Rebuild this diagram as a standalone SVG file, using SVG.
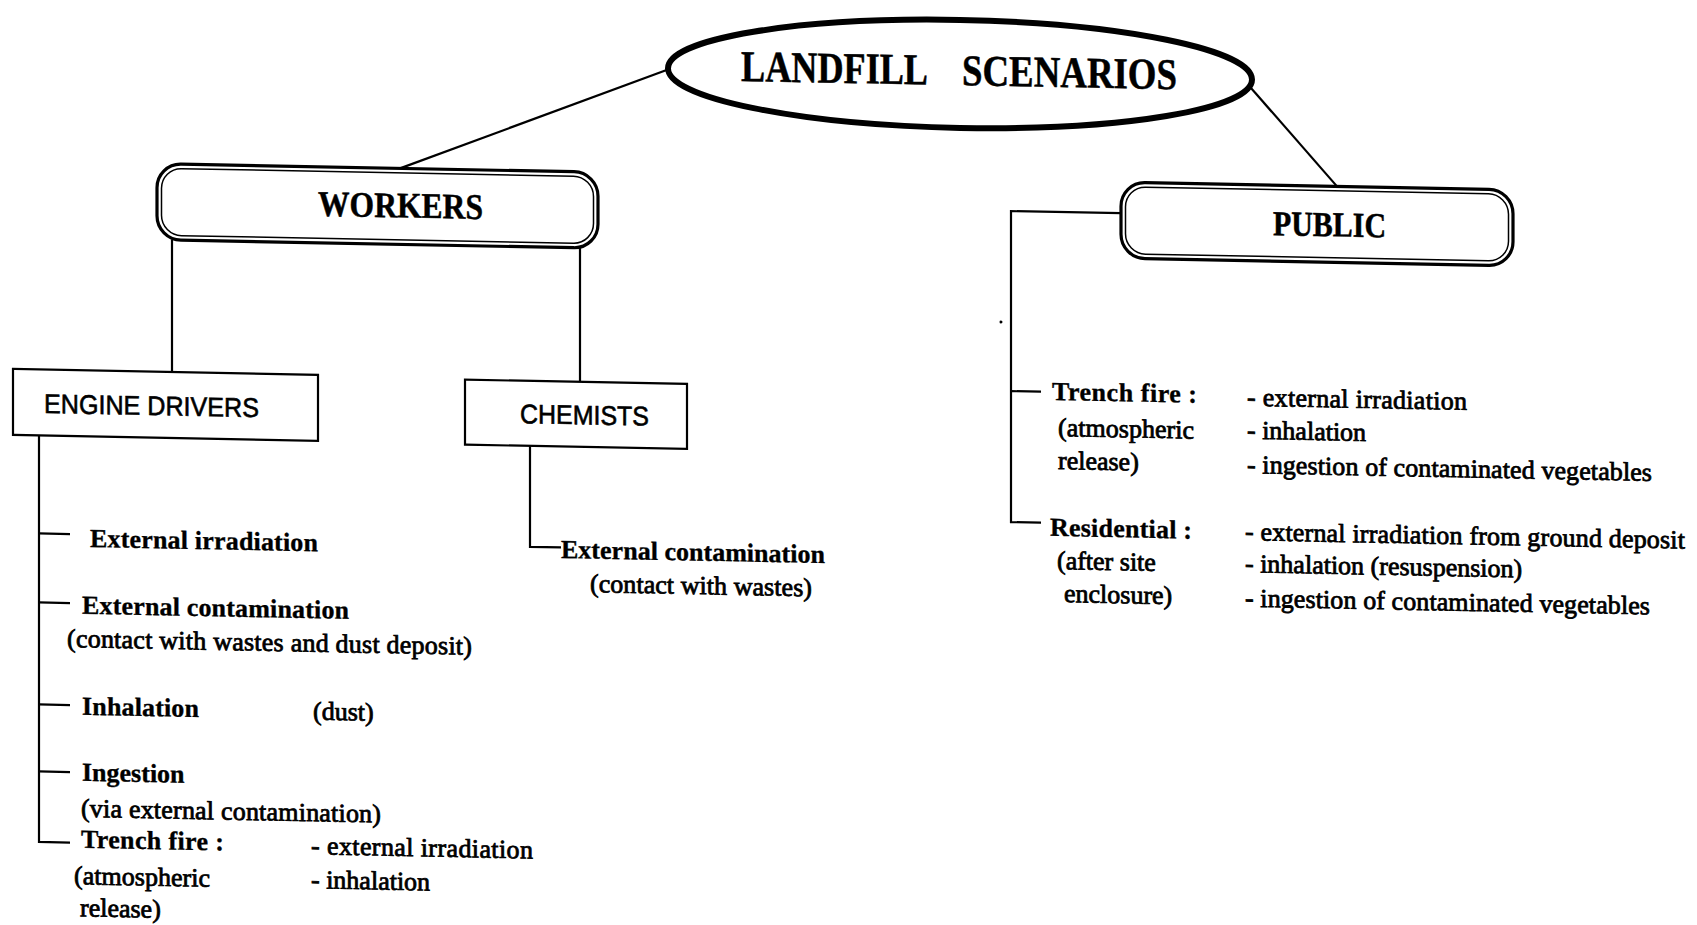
<svg xmlns="http://www.w3.org/2000/svg" width="1697" height="925" viewBox="0 0 1697 925">
  <style>
    .t{font-family:"Liberation Serif","Times New Roman",serif;fill:#000;font-size:26px}
    .b{font-weight:bold;stroke:#000;stroke-width:0.35}
    .r{stroke:#000;stroke-width:0.8}
    .h{font-family:"Liberation Serif","Times New Roman",serif;font-weight:bold;fill:#000;stroke:#000;stroke-width:0.5}
    .s{font-family:"Liberation Sans",Arial,sans-serif;font-size:27px;fill:#000;stroke:#000;stroke-width:0.6}
    .ln{stroke:#000;stroke-width:2.2;fill:none}
    .box{fill:#fff;stroke:#000;stroke-width:2.2}
    .outer{fill:#fff;stroke:#000;stroke-width:3.2}
    .inner{fill:none;stroke:#000;stroke-width:1.5}
  </style>
  <rect width="1697" height="925" fill="#fff"/>
  <!-- the whole sheet sits with a slight downward slope to the right -->
  <g transform="matrix(1 0.0192 0 1 0 -16.3)">
    <g id="connectors">
      <path class="ln" d="M668,73 L400,177"/>
      <path class="ln" d="M1249,78 L1337,177"/>
      <path class="ln" d="M172,253 V385"/>
      <path class="ln" d="M580,253 V387"/>
      <path class="ln" d="M39,451 V857.5 H70"/>
      <path class="ln" d="M39,549 H70 M39,618 H70 M39,720 H70 M39,787 H70"/>
      <path class="ln" d="M530,452 V553 H561"/>
      <path class="ln" d="M1121,208 H1011 V519 H1041"/>
      <path class="ln" d="M1011,388 H1041"/>
    </g>

    <g id="landfill-scenarios">
      <ellipse cx="960" cy="71.8" rx="292" ry="54" fill="#fff" stroke="#000" stroke-width="6"/>
      <text class="h" x="741" y="83" font-size="44" textLength="187" lengthAdjust="spacingAndGlyphs">LANDFILL</text>
      <text class="h" x="962" y="83" font-size="44" textLength="215" lengthAdjust="spacingAndGlyphs">SCENARIOS</text>
    </g>

    <g id="workers">
      <rect class="outer" x="157" y="177" width="441" height="76" rx="24"/>
      <rect class="inner" x="161.5" y="181.5" width="432" height="67" rx="20"/>
      <text class="h" x="318" y="226" font-size="36" textLength="165" lengthAdjust="spacingAndGlyphs">WORKERS</text>
    </g>

    <g id="public">
      <rect class="outer" x="1121" y="177" width="392" height="76" rx="24"/>
      <rect class="inner" x="1125.5" y="181.5" width="383" height="67" rx="20"/>
      <text class="h" x="1273" y="227" font-size="35" textLength="113" lengthAdjust="spacingAndGlyphs">PUBLIC</text>
    </g>

    <g id="engine-drivers">
      <rect class="box" x="13" y="385" width="305" height="66"/>
      <text class="s" x="44" y="428.5" textLength="215" lengthAdjust="spacingAndGlyphs">ENGINE DRIVERS</text>
    </g>

    <g id="chemists">
      <rect class="box" x="465" y="387" width="222" height="65"/>
      <text class="s" x="520" y="429.5" textLength="129" lengthAdjust="spacingAndGlyphs">CHEMISTS</text>
    </g>

    <g id="ed-external-irradiation">
      <text class="t b" x="90" y="561.5" textLength="228">External irradiation</text>
    </g>
    <g id="ed-external-contamination">
      <text class="t b" x="82" y="628.5" textLength="267">External contamination</text>
      <text class="t r" x="67" y="662" textLength="405">(contact with wastes and dust deposit)</text>
    </g>
    <g id="ed-inhalation">
      <text class="t b" x="82" y="729.5" textLength="117">Inhalation</text>
      <text class="t r" x="313" y="730">(dust)</text>
    </g>
    <g id="ed-ingestion">
      <text class="t b" x="82" y="795.5">Ingestion</text>
      <text class="t r" x="81" y="831.5" textLength="300">(via external contamination)</text>
    </g>
    <g id="ed-trench-fire">
      <text class="t b" x="81" y="862.5" textLength="143">Trench fire :</text>
      <text class="t r" x="74" y="899" textLength="136">(atmospheric</text>
      <text class="t r" x="80" y="931">release)</text>
      <text class="t r" x="311" y="864.5" textLength="222">- external irradiation</text>
      <text class="t r" x="311" y="898.5">- inhalation</text>
    </g>

    <g id="ch-external-contamination">
      <text class="t b" x="561" y="563.5" textLength="264">External contamination</text>
      <text class="t r" x="590" y="597" textLength="222">(contact with wastes)</text>
    </g>

    <g id="pu-trench-fire">
      <text class="t b" x="1052" y="396" textLength="145">Trench fire :</text>
      <text class="t r" x="1058" y="432" textLength="136">(atmospheric</text>
      <text class="t r" x="1058" y="465">release)</text>
      <text class="t r" x="1247" y="398" textLength="220">- external irradiation</text>
      <text class="t r" x="1247" y="431">- inhalation</text>
      <text class="t r" x="1247" y="465.5" textLength="405">- ingestion of contaminated vegetables</text>
    </g>

    <g id="pu-residential">
      <text class="t b" x="1050" y="532" textLength="142">Residential :</text>
      <text class="t r" x="1057" y="565">(after site</text>
      <text class="t r" x="1064" y="598">enclosure)</text>
      <text class="t r" x="1245" y="532.5" textLength="440">- external irradiation from ground deposit</text>
      <text class="t r" x="1245" y="564.5">- inhalation (resuspension)</text>
      <text class="t r" x="1245" y="599" textLength="405">- ingestion of contaminated vegetables</text>
    </g>

    <circle cx="1001" cy="319" r="1.5" fill="#000"/>
  </g>
</svg>
